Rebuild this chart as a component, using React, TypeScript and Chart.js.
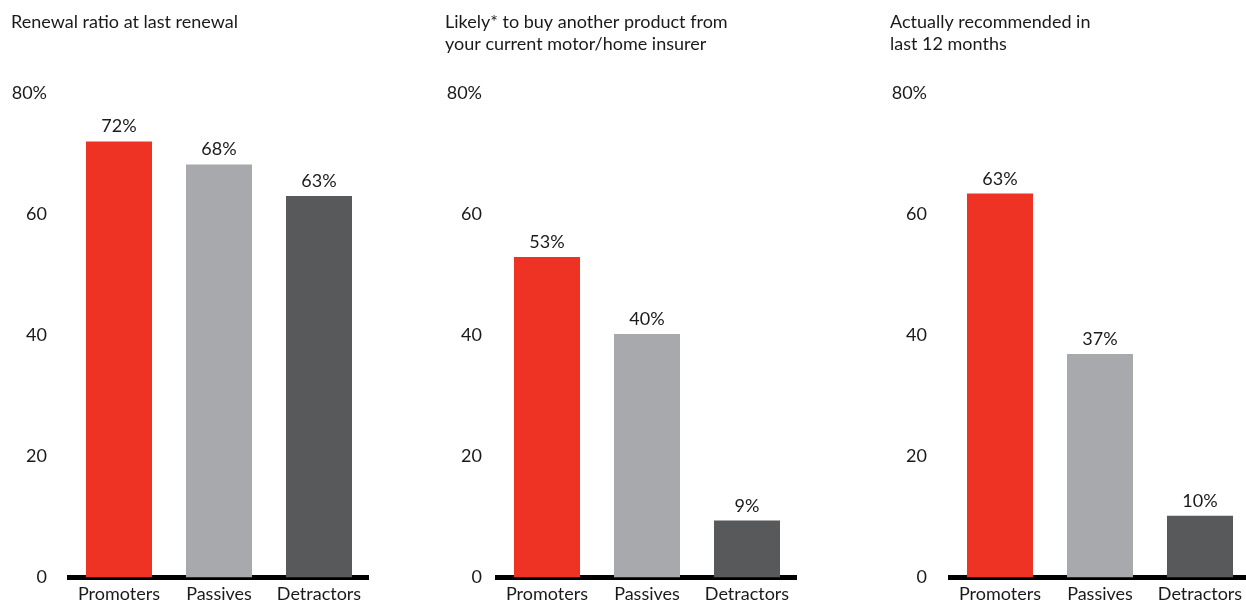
import React, { useEffect, useRef } from "react";
import { Chart, registerables } from "chart.js";

Chart.register(...registerables);

const FONT = "Lato";
const FONT_SIZE = 18;
const CANVAS_H = 603;

const categories = ["Promoters", "Passives", "Detractors"];
const barColors = ["#EE3224", "#A7A9AC", "#58595B"];

const titleRenewal = ["Renewal ratio at last renewal"];
const titleLikely = ["Likely* to buy another product from", "your current motor/home insurer"];
const titleRecommended = ["Actually recommended in", "last 12 months"];

const valuesRenewal = [72, 68.2, 63];
const valuesLikely = [52.9, 40.2, 9.4];
const valuesRecommended = [63.4, 36.9, 10.2];

const yTicks = [0, 20, 40, 60, 80];

type PanelSpec = {
  title: string[];
  values: number[];
  left: number;
  width: number;
  padLeft: number;
  axisLeft: number;
  labelGap: number;
  areaWidth: number;
};

const panels: PanelSpec[] = [
  { title: titleRenewal, values: valuesRenewal, left: 0, width: 430, padLeft: 11, axisLeft: 69, labelGap: 22, areaWidth: 300 },
  { title: titleLikely, values: valuesLikely, left: 430, width: 430, padLeft: 15, axisLeft: 67, labelGap: 15, areaWidth: 300 },
  { title: titleRecommended, values: valuesRecommended, left: 860, width: 390, padLeft: 30, axisLeft: 90, labelGap: 23, areaWidth: 300 },
];

const AREA_TOP = 93;
const AREA_BOTTOM = 577.5;
const TITLE_PAD_TOP = 11;
const LINE_H = 22;
const TEXT_COLOR = "#1a1a1a";

const valueLabelPlugin = {
  id: "valueLabels",
  afterDatasetsDraw(chart: any) {
    const ctx = chart.ctx;
    ctx.save();
    ctx.font = `${FONT_SIZE}px ${FONT}`;
    ctx.fillStyle = TEXT_COLOR;
    ctx.textAlign = "center";
    ctx.textBaseline = "alphabetic";
    chart.data.datasets.forEach((ds: any, di: number) => {
      const meta = chart.getDatasetMeta(di);
      meta.data.forEach((bar: any, i: number) => {
        const v = ds.data[i] as number;
        ctx.fillText(`${Math.round(v)}%`, bar.x, bar.y - 9);
      });
    });
    ctx.restore();
  },
};

function Panel({ spec }: { spec: PanelSpec }) {
  const ref = useRef<HTMLCanvasElement | null>(null);
  useEffect(() => {
    if (!ref.current) return;
    const titleH = spec.title.length * LINE_H;
    const padRight = spec.width - spec.axisLeft - spec.areaWidth;
    const chart = new Chart(ref.current, {
      type: "bar",
      data: {
        labels: categories,
        datasets: [
          {
            data: spec.values,
            backgroundColor: barColors,
            borderWidth: 0,
            barPercentage: 0.66,
            categoryPercentage: 1,
          },
        ],
      },
      options: {
        responsive: false,
        animation: false,
        layout: { padding: { left: spec.padLeft, right: padRight, top: 0, bottom: 0 } },
        plugins: {
          legend: { display: false },
          tooltip: { enabled: false },
          title: {
            display: true,
            text: spec.title,
            align: "start",
            color: TEXT_COLOR,
            font: { family: FONT, size: FONT_SIZE, weight: "normal", lineHeight: LINE_H / FONT_SIZE },
            padding: { top: TITLE_PAD_TOP, bottom: AREA_TOP - TITLE_PAD_TOP - titleH },
          },
        },
        scales: {
          x: {
            grid: { display: false, drawTicks: false, lineWidth: 0 },
            border: { display: true, color: "#000000", width: 5 },
            ticks: { color: TEXT_COLOR, font: { family: FONT, size: FONT_SIZE }, padding: 6, maxRotation: 0 },
            afterFit: (scale: any) => {
              scale.height = CANVAS_H - AREA_BOTTOM;
            },
          },
          y: {
            min: 0,
            max: 80,
            grid: { display: false, drawTicks: false },
            border: { display: false },
            afterBuildTicks: (scale: any) => {
              scale.ticks = yTicks.map((v) => ({ value: v }));
            },
            ticks: {
              color: TEXT_COLOR,
              font: { family: FONT, size: FONT_SIZE },
              padding: spec.labelGap,
              callback: (v: any) => (Number(v) === 80 ? "80%" : String(v)),
            },
            afterFit: (scale: any) => {
              scale.width = spec.axisLeft - spec.padLeft;
              scale.paddingTop = 0;
              scale.paddingBottom = 0;
            },
          },
        },
      },
      plugins: [valueLabelPlugin],
    });
    return () => chart.destroy();
  }, [spec]);
  return (
    <canvas
      ref={ref}
      width={spec.width}
      height={CANVAS_H}
      style={{ position: "absolute", left: spec.left, top: 0, width: spec.width, height: CANVAS_H }}
    />
  );
}

export default function App() {
  return (
    <div
      style={{
        position: "absolute",
        left: 0,
        top: 0,
        width: 1246,
        height: CANVAS_H,
        overflow: "hidden",
        background: "#ffffff",
      }}
    >
      {panels.map((p, i) => (
        <Panel key={i} spec={p} />
      ))}
    </div>
  );
}
